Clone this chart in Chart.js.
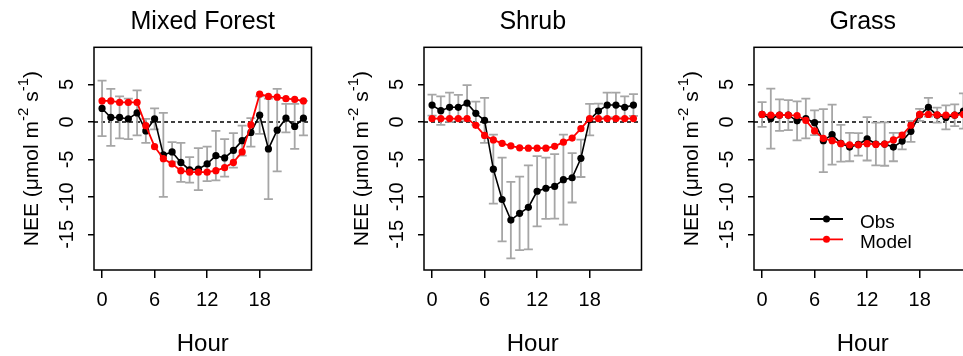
<!DOCTYPE html>
<html>
<head>
<meta charset="utf-8">
<title>NEE diurnal cycle by land cover</title>
<script src="https://cdn.jsdelivr.net/npm/chart.js"></script>
<style>
  html, body { margin: 0; padding: 0; background: #fff; overflow: hidden; }
  #wrap { position: relative; width: 963px; height: 356px; overflow: hidden; }
  .panel { position: absolute; top: 0; width: 330px; height: 356px; }
</style>
</head>
<body>
<div id="wrap">
  <div class="panel" style="left:0px"><canvas id="c0" width="330" height="356"></canvas></div>
  <div class="panel" style="left:330px"><canvas id="c1" width="330" height="356"></canvas></div>
  <div class="panel" style="left:660px"><canvas id="c2" width="330" height="356"></canvas></div>
</div>
<script>
// ---- data ----
const hours = [0,1,2,3,4,5,6,7,8,9,10,11,12,13,14,15,16,17,18,19,20,21,22,23];
const xTicks = [0, 6, 12, 18];
const yTicks = [5, 0, -5, -10, -15];
const panelTitles = ['Mixed Forest', 'Shrub', 'Grass'];
const seriesNames = ['Obs', 'Model'];

const mixedObs   = [1.8, 0.6, 0.6, 0.4, 1.2, -1.2, 0.4, -4.4, -4.0, -5.4, -6.4, -6.3, -5.6, -4.5, -4.8, -3.8, -2.5, -1.4, 0.9, -3.6, -1.1, 0.5, -0.6, 0.5];
const mixedSd    = [3.7, 3.8, 2.8, 2.7, 3.0, 1.6, 1.4, 5.6, 1.3, 2.6, 1.7, 2.8, 2.3, 3.3, 2.5, 2.3, 2.0, 1.9, 2.5, 6.7, 5.5, 1.9, 3.0, 2.3];
const mixedModel = [2.8, 2.8, 2.6, 2.6, 2.6, -0.5, -3.3, -4.9, -5.6, -6.5, -6.7, -6.7, -6.7, -6.5, -6.1, -5.4, -4.0, -0.4, 3.7, 3.4, 3.3, 3.1, 3.0, 2.8];

const shrubObs   = [2.25, 1.5, 1.95, 1.95, 2.5, 1.15, 0.2, -6.3, -10.35, -13.1, -12.2, -11.4, -9.25, -8.85, -8.6, -7.7, -7.45, -4.85, 0.3, 1.45, 2.25, 2.25, 1.95, 2.25];
const shrubSd    = [1.4, 1.9, 1.95, 1.65, 2.4, 1.55, 3.0, 4.6, 5.6, 5.1, 4.9, 5.6, 4.7, 4.1, 4.3, 6.0, 3.3, 2.5, 2.1, 1.0, 1.65, 1.65, 1.45, 1.45];
const shrubModel = [0.45, 0.45, 0.45, 0.45, 0.45, -0.45, -1.8, -2.4, -2.85, -3.2, -3.45, -3.5, -3.5, -3.5, -3.25, -2.7, -2.15, -0.9, 0.45, 0.45, 0.45, 0.45, 0.45, 0.45];

const grassObs   = [1.0, 0.45, 0.9, 0.9, 0.15, 0.45, -0.1, -2.5, -1.7, -2.85, -3.35, -3.0, -2.25, -2.95, -2.95, -3.35, -2.55, -1.25, 0.95, 1.95, 0.9, 0.6, 0.9, 1.45];
const grassSd    = [1.65, 4.0, 2.1, 2.0, 2.6, 2.65, 1.65, 4.2, 4.0, 2.45, 1.9, 1.5, 2.9, 2.85, 2.9, 1.9, 1.1, 1.4, 0.8, 1.25, 1.0, 1.6, 1.45, 2.35];
const grassModel = [1.0, 0.9, 0.9, 0.9, 0.85, 0.2, -1.2, -2.2, -2.5, -2.9, -3.05, -3.05, -2.9, -3.0, -2.95, -2.4, -1.75, -0.45, 1.0, 1.0, 0.95, 0.9, 0.9, 1.0];

const FONT = '"Liberation Sans", Arial, sans-serif';
const ERR_COLOR = '#a6a6a6';

// draws the R-style bits: zero line, error bars, box, rotated y labels, legend
const rDecor = {
  id: 'rDecor',
  beforeDatasetsDraw(chart, args, opts) {
    const {ctx, chartArea: a, scales: {x, y}} = chart;
    ctx.save();
    // dotted zero line
    ctx.strokeStyle = '#000';
    ctx.lineWidth = 1.5;
    ctx.setLineDash([4, 3]);
    const y0 = y.getPixelForValue(0);
    ctx.beginPath(); ctx.moveTo(a.left, y0); ctx.lineTo(a.right, y0); ctx.stroke();
    ctx.setLineDash([]);
    // error bars (mean +- sd)
    ctx.strokeStyle = ERR_COLOR;
    ctx.lineWidth = 1.8;
    opts.obs.forEach((v, i) => {
      const px = x.getPixelForValue(hours[i]);
      const hi = y.getPixelForValue(v + opts.sd[i]);
      const lo = y.getPixelForValue(v - opts.sd[i]);
      ctx.beginPath();
      ctx.moveTo(px, hi); ctx.lineTo(px, lo);
      ctx.moveTo(px - 4.5, hi); ctx.lineTo(px + 4.5, hi);
      ctx.moveTo(px - 4.5, lo); ctx.lineTo(px + 4.5, lo);
      ctx.stroke();
    });
    ctx.restore();
  },
  afterDraw(chart, args, opts) {
    const {ctx, chartArea: a, scales: {y}} = chart;
    ctx.save();
    // box
    ctx.strokeStyle = '#000';
    ctx.lineWidth = 1.5;
    ctx.strokeRect(a.left, a.top, a.right - a.left, a.bottom - a.top);

    // rotated y tick labels
    ctx.fillStyle = '#000';
    ctx.font = '20px ' + FONT;
    ctx.textAlign = 'center';
    ctx.textBaseline = 'alphabetic';
    yTicks.forEach(v => {
      ctx.save();
      ctx.translate(a.left - 21, y.getPixelForValue(v));
      ctx.rotate(-Math.PI / 2);
      ctx.fillText(String(v), 0, 0);
      ctx.restore();
    });

    // y axis title with superscripts
    const parts = [['NEE (\u03bcmol m', false], ['-2', true], [' s', false], ['-1', true], [')', false]];
    const big = '21px ' + FONT, small = '15px ' + FONT;
    let total = 0;
    parts.forEach(p => { ctx.font = p[1] ? small : big; total += ctx.measureText(p[0]).width; });
    ctx.save();
    ctx.translate(38, (a.top + a.bottom) / 2);
    ctx.rotate(-Math.PI / 2);
    ctx.textAlign = 'left';
    let cx = -total / 2;
    parts.forEach(p => {
      ctx.font = p[1] ? small : big;
      ctx.fillText(p[0], cx, p[1] ? -10 : 0);
      cx += ctx.measureText(p[0]).width;
    });
    ctx.restore();

    // legend
    if (opts.legend) {
      const rows = [0, 1].map(k => chart.data.datasets.find(d => d.label === seriesNames[k]));
      rows.forEach((ds, k) => {
        const ly = 219 + k * 20.3;
        const x1 = a.left + 56, x2 = a.left + 89;
        ctx.strokeStyle = ds.borderColor;
        ctx.lineWidth = 1.8;
        ctx.beginPath(); ctx.moveTo(x1, ly); ctx.lineTo(x2, ly); ctx.stroke();
        ctx.fillStyle = ds.borderColor;
        ctx.beginPath(); ctx.arc((x1 + x2) / 2, ly, 3.5, 0, Math.PI * 2); ctx.fill();
        ctx.fillStyle = '#000';
        ctx.font = '19px ' + FONT;
        ctx.textAlign = 'left';
        ctx.fillText(ds.label, a.left + 106, ly + 8.8);
      });
    }
    ctx.restore();
  }
};

function makePanel(id, title, obs, sd, model, showLegend) {
  const pts = arr => hours.map((h, i) => ({x: h, y: arr[i]}));
  new Chart(document.getElementById(id), {
    type: 'line',
    data: {
      datasets: [
        { label: seriesNames[0], data: pts(obs), borderColor: '#000000', backgroundColor: '#000000',
          borderWidth: 1.6, pointRadius: 3.6, pointBorderWidth: 0, tension: 0, order: 1 },
        { label: seriesNames[1], data: pts(model), borderColor: '#ff0000', backgroundColor: '#ff0000',
          borderWidth: 1.8, pointRadius: 3.6, pointBorderWidth: 0, tension: 0, order: 0 }
      ]
    },
    options: {
      responsive: false,
      animation: false,
      events: [],
      layout: { padding: { left: 88, right: 18.5, top: 0, bottom: 0 } },
      plugins: {
        legend: { display: false },
        tooltip: { enabled: false },
        title: {
          display: true, text: title, color: '#000', fullSize: false,
          font: { family: FONT, size: 25, weight: 'normal', lineHeight: 1.2 },
          padding: { top: 7, bottom: 10.3 }
        },
        rDecor: { obs: obs, sd: sd, legend: showLegend }
      },
      scales: {
        x: {
          type: 'linear', min: -0.92, max: 23.92,
          afterBuildTicks: ax => { ax.ticks = xTicks.map(v => ({value: v})); },
          ticks: { color: '#000', font: { family: FONT, size: 20 }, padding: 10, maxRotation: 0,
                   callback: v => String(v) },
          grid: { drawOnChartArea: false, drawTicks: true, tickLength: 8, color: '#000', lineWidth: 1.5 },
          border: { display: false },
          title: { display: true, text: 'Hour', color: '#000',
                   font: { family: FONT, size: 24, lineHeight: 1 }, padding: { top: 10, bottom: 0 } }
        },
        y: {
          type: 'linear', min: -19.76, max: 9.96,
          afterBuildTicks: ax => { ax.ticks = yTicks.map(v => ({value: v})); },
          ticks: { display: false },
          grid: { drawOnChartArea: false, drawTicks: true, tickLength: 6, color: '#000', lineWidth: 1.5 },
          border: { display: false }
        }
      }
    },
    plugins: [rDecor]
  });
}

makePanel('c0', panelTitles[0], mixedObs, mixedSd, mixedModel, false);
makePanel('c1', panelTitles[1], shrubObs, shrubSd, shrubModel, false);
makePanel('c2', panelTitles[2], grassObs, grassSd, grassModel, true);
</script>
</body>
</html>
